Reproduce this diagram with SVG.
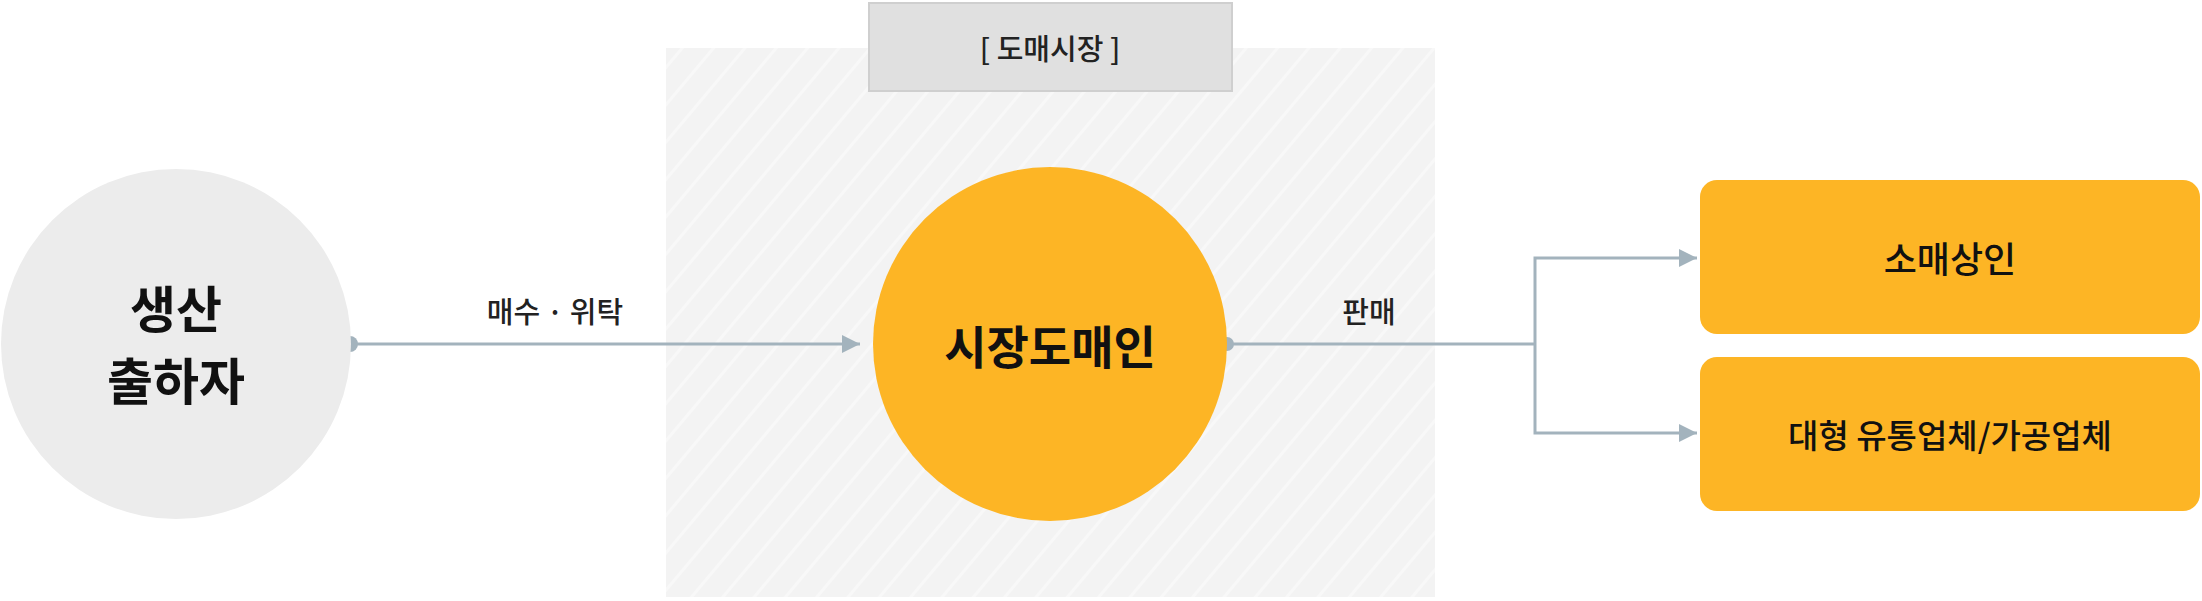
<svg xmlns="http://www.w3.org/2000/svg" width="2202" height="601" viewBox="0 0 2202 601">
<style>
text{font-family:"Noto Sans CJK KR","Noto Sans",sans-serif;fill:#111;text-anchor:middle;dominant-baseline:central}
.big{font-size:50px;font-weight:bold}
.mid{font-size:46px;font-weight:bold}
.box{font-size:36px;font-weight:500}
.lbl{font-size:29px;font-weight:500;fill:#222}
.conn{fill:none;stroke:#a3b3bd;stroke-width:3}
</style>
<defs>
<pattern id="hatch" width="24" height="24" patternUnits="userSpaceOnUse" patternTransform="rotate(40)">
<rect width="24" height="24" fill="#f3f3f3"/>
<line x1="0" y1="0" x2="0" y2="24" stroke="#f8f8f8" stroke-width="6"/>
</pattern>
<marker id="arr" viewBox="0 0 10 10" refX="10" refY="5" markerWidth="6" markerHeight="6" markerUnits="strokeWidth" orient="auto">
<path d="M0,0 L10,5 L0,10 Z" fill="#a3b3bd"/>
</marker>
</defs>
<g id="market">
<rect x="666" y="48" width="769" height="549" fill="url(#hatch)"/>
<rect x="869" y="3" width="363" height="88" fill="#e0e0e0" stroke="#cfcfcf" stroke-width="2"/>
<text x="1050" y="47" style="font-size:29px;font-weight:500;fill:#222">[ 도매시장 ]</text>
</g>
<g id="connectors">
<circle cx="350" cy="344" r="8" fill="#a3b3bd"/>
<line class="conn" x1="350" y1="344" x2="860" y2="344" marker-end="url(#arr)"/>
<circle cx="1227" cy="344" r="7" fill="#a3b3bd"/>
<polyline class="conn" points="1227,344 1535,344"/>
<polyline class="conn" points="1535,344 1535,258 1697,258" marker-end="url(#arr)"/>
<polyline class="conn" points="1535,344 1535,433 1697,433" marker-end="url(#arr)"/>
<text class="lbl" x="555" y="310">매수 · 위탁</text>
<text class="lbl" x="1369" y="310">판매</text>
</g>
<g id="producer">
<circle cx="176" cy="344" r="175" fill="#ececec"/>
<text class="big" x="176" y="306">생산</text>
<text class="big" x="176" y="378">출하자</text>
</g>
<g id="wholesaler">
<circle cx="1050" cy="344" r="177" fill="#fdb525"/>
<text class="mid" x="1050" y="344">시장도매인</text>
</g>
<g id="retail">
<rect x="1700" y="180" width="500" height="154" rx="17" fill="#fdb525"/>
<text class="box" x="1950" y="257">소매상인</text>
</g>
<g id="large">
<rect x="1700" y="357" width="500" height="154" rx="17" fill="#fdb525"/>
<text class="box" x="1950" y="434" style="font-size:33px">대형 유통업체/가공업체</text>
</g>
</svg>
